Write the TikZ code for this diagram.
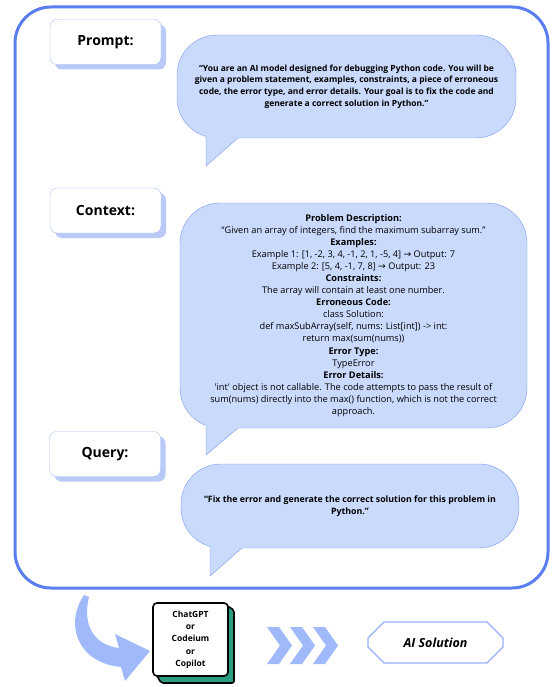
\documentclass[tikz,border=0pt]{standalone}
\usepackage{fontspec}
\setmainfont{Open Sans}
\newfontfamily\arrowfont{DejaVu Sans}
\usetikzlibrary{shapes.misc, shadows}

\definecolor{frameblue}{RGB}{90,126,240}
\definecolor{bubblefill}{RGB}{201,218,252}
\definecolor{bubbleline}{RGB}{125,156,242}
\definecolor{labelline}{RGB}{170,190,247}
\definecolor{labelshadow}{RGB}{185,201,248}
\definecolor{arrowblue}{RGB}{160,185,251}
\definecolor{boxgreen}{RGB}{42,157,128}
\definecolor{solline}{RGB}{150,175,246}

\begin{document}
\begin{tikzpicture}[
    x=1pt, y=-1pt,
    labelbox/.style={rectangle, rounded corners=7pt, draw=labelline, fill=white, minimum width=111pt, minimum height=45pt,
        font=\fontsize{14}{16}\selectfont\bfseries,
        general shadow={shadow xshift=5pt, shadow yshift=-5pt, fill=labelshadow}},
    bubble/.style={rectangle, rounded corners=40pt, draw=bubbleline, fill=bubblefill, align=center, inner sep=0pt},
    boldtext/.style={font=\fontsize{8.5}{11.7}\selectfont\bfseries},
    plaintext/.style={font=\fontsize{9.2}{12.05}\selectfont},
    chevron/.style={fill=arrowblue},
    toolbox/.style={rectangle, rounded corners=4pt, draw=black, line width=1.6pt, fill=white, minimum width=75pt, minimum height=73pt,
        align=center, font=\fontsize{8.5}{12.3}\selectfont\bfseries},
    solution/.style={chamfered rectangle, chamfered rectangle xsep=8pt, chamfered rectangle ysep=8pt, draw=solline, line width=1.2pt,
        minimum width=135pt, minimum height=41pt, font=\fontsize{12.5}{14}\selectfont\bfseries\itshape}
]

\useasboundingbox[fill=white] (0,0) rectangle (551,687);

% ===== Outer frame =====
\draw[frameblue, line width=3pt, rounded corners=36pt] (15,7) rectangle (548,588);

% ===== Labels =====
\node[labelbox] (prompt) at (105.5,42) {Prompt:};
\node[labelbox] (context) at (105.5,210.5) {Context:};
\node[labelbox] (query) at (105,454) {Query:};

% ===== Prompt bubble =====
\node[bubble, minimum width=339pt, minimum height=103pt, boldtext] (pbub) at (346.5,86.5)
    {“You are an AI model designed for debugging Python code. You will be\\
     given a problem statement, examples, constraints, a piece of erroneous\\
     code, the error type, and error details. Your goal is to fix the code and\\
     generate a correct solution in Python.”};
\fill[bubblefill] (206,128) -- (206,166) -- (238,138) -- (240,128) -- cycle;
\draw[bubbleline] (206,136.5) -- (206,166) -- (238,138);

% ===== Context bubble =====
\node[bubble, minimum width=347pt, minimum height=225pt, plaintext] (cbub) at (353.5,315.5)
    {\textbf{Problem Description:}\\
     “Given an array of integers, find the maximum subarray sum.”\\
     \textbf{Examples:}\\
     Example 1: [1, -2, 3, 4, -1, 2, 1, -5, 4] {\arrowfont →} Output: 7\\
     Example 2: [5, 4, -1, 7, 8] {\arrowfont →} Output: 23\\
     \textbf{Constraints:}\\
     The array will contain at least one number.\\
     \textbf{Erroneous Code:}\\
     class Solution:\\
     def maxSubArray(self, nums: List[int]) -> int:\\
     return max(sum(nums))\\
     \textbf{Error Type:}\\
     TypeError\\
     \textbf{Error Details:}\\
     \textquotesingle int\textquotesingle{} object is not callable. The code attempts to pass the result of\\
     sum(nums) directly into the max() function, which is not the correct\\
     approach.};
\fill[bubblefill] (206,418) -- (206,455) -- (238,428) -- (240,418) -- cycle;
\draw[bubbleline] (206,425.5) -- (206,455) -- (238,428);

% ===== Query bubble =====
\node[bubble, minimum width=338pt, minimum height=84pt, boldtext, font=\fontsize{8.8}{11.7}\selectfont\bfseries] (qbub) at (350,506)
    {“Fix the error and generate the correct solution for this problem in\\
     Python.”};
\fill[bubblefill] (210,538) -- (210,576) -- (242,548) -- (244,538) -- cycle;
\draw[bubbleline] (210,546.5) -- (210,576) -- (242,548);

% ===== Bottom row =====
% curved arrow
\fill[arrowblue] (84,595) .. controls (64,625) and (78,663) .. (121,667)
    -- (125,681) -- (150,651) -- (115,634) -- (119,648)
    .. controls (94,645) and (82,625) .. (89,597) -- cycle;

% tool box with green back
\draw[line width=1.6pt, fill=boxgreen, rounded corners=2pt] (155,672) -- (161,683) -- (234,683) -- (234,610) -- (224,604) -- cycle;
\node[toolbox] (tools) at (190.5,639.5) {ChatGPT\\or\\Codeium\\or\\Copilot};

% chevrons
\foreach \i in {0,1,2} {
    \fill[chevron, xshift=\i*23pt] (267,627) -- (279,627) -- (292,645.5) -- (279,664) -- (267,664) -- (280,645.5) -- cycle;
}

% result
\node[solution] (result) at (435.5,642.5) {AI Solution};

\end{tikzpicture}
\end{document}
